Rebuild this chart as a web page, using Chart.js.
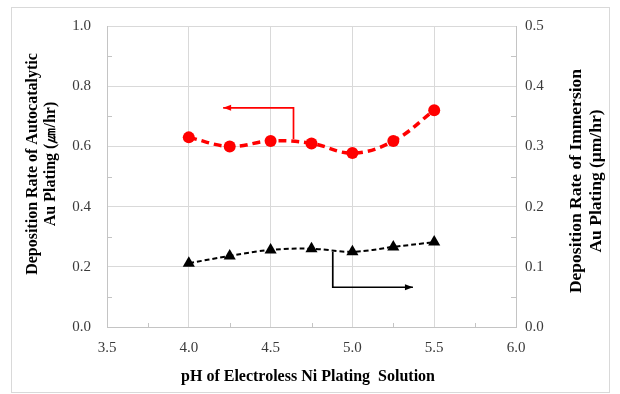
<!DOCTYPE html>
<html>
<head>
<meta charset="utf-8">
<script src="https://cdn.jsdelivr.net/npm/chart.js@4"></script>
<style>
  html, body { margin: 0; padding: 0; background: #fff; }
  #wrap { width: 620px; height: 394px; position: relative; }
</style>
</head>
<body>
<div id="wrap"><canvas id="chart"></canvas></div>
<script>
// pH values and deposition rates
const phValues      = [4.0, 4.25, 4.5, 4.75, 5.0, 5.25, 5.5];
const autocatalytic = [0.63, 0.60, 0.618, 0.61, 0.578, 0.618, 0.72];   // left axis
const immersion     = [0.106, 0.118, 0.128, 0.13, 0.125, 0.133, 0.141]; // right axis

// axis-indicator arrows, in data units [pH, rate]
const leftArrow  = [[4.64, 0.625], [4.64, 0.728], [4.21, 0.728]];
const rightArrow = [[4.88, 0.125], [4.88, 0.066], [5.37, 0.066]];

const xTitle      = 'pH of Electroless Ni Plating  Solution';
const leftTitle   = ['Deposition Rate of Autocatalytic', 'Au Plating (㎛/hr)'];
const rightTitle  = ['Deposition Rate of Immersion', 'Au Plating (μm/hr)'];

const SERIF = "'Liberation Serif', 'Times New Roman', serif";
const GRID  = '#d9d9d9';
const AXIS  = '#c4c4c4';
const TICK  = '#3a3a3a';

const toXY = ys => phValues.map((x, i) => ({ x, y: ys[i] }));

function drawArrow(ctx, pts, xs, ys, color) {
  const p = pts.map(([x, y]) => [xs.getPixelForValue(x), ys.getPixelForValue(y)]);
  ctx.save();
  ctx.strokeStyle = color;
  ctx.fillStyle = color;
  ctx.lineWidth = 1.7;
  ctx.beginPath();
  ctx.moveTo(p[0][0], p[0][1]);
  for (let i = 1; i < p.length; i++) ctx.lineTo(p[i][0], p[i][1]);
  ctx.stroke();
  // head on the last segment
  const [x1, y1] = p[p.length - 2], [x2, y2] = p[p.length - 1];
  const a = Math.atan2(y2 - y1, x2 - x1);
  ctx.beginPath();
  ctx.moveTo(x2, y2);
  ctx.lineTo(x2 - 8 * Math.cos(a) + 3 * Math.sin(a), y2 - 8 * Math.sin(a) - 3 * Math.cos(a));
  ctx.lineTo(x2 - 8 * Math.cos(a) - 3 * Math.sin(a), y2 - 8 * Math.sin(a) + 3 * Math.cos(a));
  ctx.closePath();
  ctx.fill();
  ctx.restore();
}

function drawRotated(ctx, lines, xs, cy, size) {
  ctx.save();
  ctx.font = 'bold ' + size + 'px ' + SERIF;
  ctx.fillStyle = '#000';
  ctx.textAlign = 'center';
  ctx.textBaseline = 'middle';
  lines.forEach((t, i) => {
    ctx.save();
    ctx.translate(xs[i], cy);
    ctx.rotate(-Math.PI / 2);
    ctx.fillText(t, 0, 0);
    ctx.restore();
  });
  ctx.restore();
}

const decorations = {
  id: 'decorations',
  beforeDraw(chart) {
    const ctx = chart.ctx;
    ctx.save();
    ctx.fillStyle = '#fff';
    ctx.fillRect(0, 0, chart.width, chart.height);
    ctx.strokeStyle = '#d9d9d9';
    ctx.lineWidth = 1;
    ctx.strokeRect(11.5, 7.5, 598, 385);
    ctx.restore();
  },
  afterDatasetsDraw(chart) {
    const { ctx, chartArea: a, scales: { x, y, y2 } } = chart;
    // minor ticks
    ctx.save();
    ctx.strokeStyle = AXIS;
    ctx.lineWidth = 1;
    ctx.beginPath();
    for (let v = 3.75; v < 6; v += 0.5) {
      const px = Math.round(x.getPixelForValue(v)) + 0.5;
      ctx.moveTo(px, a.bottom); ctx.lineTo(px, a.bottom - 4);
    }
    for (let v = 0.1; v < 1; v += 0.2) {
      const py = Math.round(y.getPixelForValue(v)) + 0.5;
      ctx.moveTo(a.left, py); ctx.lineTo(a.left + 5, py);
    }
    for (let v = 0.05; v < 0.5; v += 0.1) {
      const py = Math.round(y2.getPixelForValue(v)) + 0.5;
      ctx.moveTo(a.right, py); ctx.lineTo(a.right - 5, py);
    }
    ctx.stroke();
    ctx.restore();

    drawArrow(ctx, leftArrow, x, y, '#ff0000');
    drawArrow(ctx, rightArrow, x, y2, '#000000');
  },
  afterDraw(chart) {
    const ctx = chart.ctx;
    drawRotated(ctx, leftTitle, [33, 51], 164, 16);
    drawRotated(ctx, rightTitle, [576, 596], 181, 17.5);
    ctx.save();
    ctx.font = 'bold 16px ' + SERIF;
    ctx.fillStyle = '#000';
    ctx.textAlign = 'center';
    ctx.textBaseline = 'middle';
    ctx.fillText(xTitle, 308, 377);
    ctx.restore();
  },
};

const tickFont = { family: SERIF, size: 15 };

new Chart(document.getElementById('chart'), {
  type: 'line',
  data: {
    datasets: [
      {
        data: toXY(autocatalytic),
        yAxisID: 'y',
        borderColor: '#ff0000',
        backgroundColor: '#ff0000',
        borderWidth: 3.5,
        borderDash: [8, 5],
        tension: 0.4,
        pointStyle: 'circle',
        pointRadius: 6,
        pointBorderWidth: 0,
      },
      {
        data: toXY(immersion),
        yAxisID: 'y2',
        borderColor: '#000000',
        backgroundColor: '#000000',
        borderWidth: 2,
        borderDash: [5, 3],
        tension: 0.4,
        pointStyle: 'triangle',
        pointRadius: 7,
        pointBorderWidth: 0,
      },
    ],
  },
  options: {
    responsive: true,
    maintainAspectRatio: false,
    animation: false,
    layout: { padding: { top: 26, left: 0, right: 0, bottom: 0 } },
    plugins: { legend: { display: false }, tooltip: { enabled: false } },
    scales: {
      x: {
        type: 'linear',
        min: 3.5, max: 6.0,
        afterFit: s => { s.height = 67; },
        ticks: { stepSize: 0.5, padding: 12, color: TICK, font: tickFont,
                 callback: v => v.toFixed(1) },
        grid: { color: GRID, drawTicks: false },
        border: { color: AXIS },
      },
      y: {
        position: 'left',
        min: 0, max: 1.0,
        afterFit: s => { s.width = 107; },
        ticks: { stepSize: 0.2, padding: 16, color: TICK, font: tickFont,
                 callback: v => v.toFixed(1) },
        grid: { color: GRID, drawTicks: false },
        border: { color: AXIS },
      },
      y2: {
        position: 'right',
        min: 0, max: 0.5,
        afterFit: s => { s.width = 104; },
        ticks: { stepSize: 0.1, padding: 9, color: TICK, font: tickFont,
                 callback: v => v.toFixed(1) },
        grid: { display: false, drawTicks: false },
        border: { color: AXIS },
      },
    },
  },
  plugins: [decorations],
});
</script>
</body>
</html>
